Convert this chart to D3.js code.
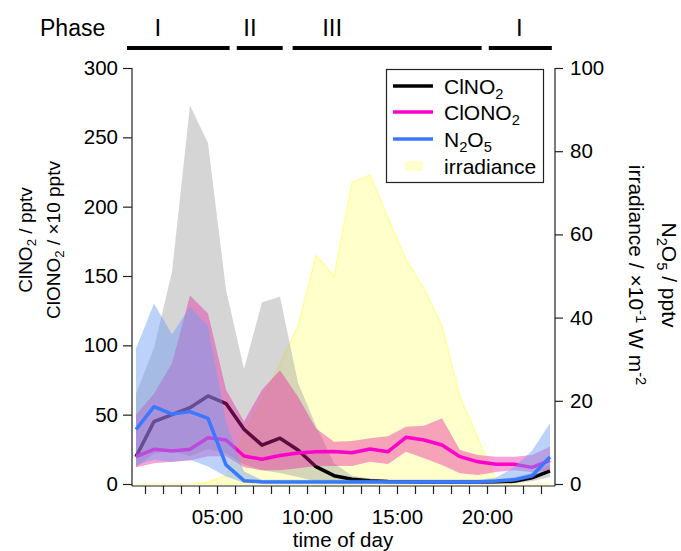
<!DOCTYPE html>
<html>
<head>
<meta charset="utf-8">
<script src="https://cdn.jsdelivr.net/npm/d3@7/dist/d3.min.js"></script>
<style>
  html, body { margin: 0; padding: 0; background: #fff; }
  svg { display: block; }
  text { font-family: "Liberation Sans", Arial, sans-serif; fill: #000; }
</style>
</head>
<body>
<svg id="chart" width="681" height="551"></svg>
<script>
// Hourly bin centres (hour of day)
const hours = [0.5, 1.5, 2.5, 3.5, 4.5, 5.5, 6.5, 7.5, 8.5, 9.5, 10.5, 11.5,
               12.5, 13.5, 14.5, 15.5, 16.5, 17.5, 18.5, 19.5, 20.5, 21.5, 22.5, 23.5];

// ClNO2 (pptv, left axis): median and range
const clno2   = [19.7, 45, 50, 55, 63.5, 58, 39.5, 28, 33, 24.5, 12.5, 6,
                 3.4, 2.4, 1.8, 1.6, 1.5, 1.5, 1.5, 1.5, 1.6, 2, 4.5, 9.5];
const clno2Lo = [12, 22, 24, 20, 25, 22, 14, 10, 8, 5, 2, 0.6,
                 0.3, 0.2, 0.2, 0.2, 0.2, 0.2, 0.2, 0.2, 0.3, 0.5, 2, 5];
const clno2Hi = [65, 98, 153, 273, 246, 140, 83, 131, 135, 73, 42, 15,
                 6, 4, 3, 3, 3, 3, 3, 3, 3, 5, 8, 14];

// ClONO2 (x10 pptv, left axis): median and range
const clono2   = [19.7, 25, 23.8, 25, 33.4, 31.7, 20.2, 17.8, 20.5, 22.4, 23.3, 23.5,
                  22.6, 25.2, 23.3, 33.7, 31.7, 28.1, 19.7, 16, 14.2, 14.2, 12, 17];
const clono2Lo = [12, 15, 16, 17, 20, 20, 12, 10, 10, 11.3, 13, 13,
                  13, 16, 14.5, 23.3, 18.5, 13.7, 7.7, 6.5, 8.7, 10, 8.7, 10];
const clono2Hi = [50, 65, 87, 136, 123, 68, 45, 68, 82, 63, 40, 30.5,
                  31, 33, 34.5, 41.3, 42, 47.4, 24.5, 21, 19.7, 19.7, 21, 27];

// N2O5 (pptv, right axis): median and range
const n2o5   = [13.1, 18.6, 16.8, 17.4, 15.8, 4.6, 0.8, 0.5, 0.5, 0.5, 0.5, 0.5,
                0.5, 0.5, 0.5, 0.5, 0.5, 0.5, 0.5, 0.5, 0.7, 1.0, 2.0, 6.5];
const n2o5Lo = [4.6, 5.8, 5.3, 5.8, 4.2, 1.8, 0.3, 0.2, 0.2, 0.2, 0.2, 0.2,
                0.2, 0.2, 0.2, 0.2, 0.2, 0.2, 0.2, 0.2, 0.3, 0.6, 1.5, 4];
const n2o5Hi = [32.6, 43.4, 36, 42.6, 38, 15, 3, 1, 1, 1, 1, 1,
                1, 1, 1, 1, 1, 1, 1, 1, 1.5, 4, 8, 14.6];

// Irradiance (x10^-1 W m-2, right axis): range
const irrLo = [0, 0, 0, 0, 0, 0, 0, 0, 0, 0, 0, 0,
               0, 0, 0, 0, 0, 0, 0, 0, 0, 0, 0, 0];
const irrHi = [0, 0, 0, 0, 0.5, 2, 12, 20, 29, 38, 55, 50,
               72.5, 74.3, 64, 54, 47, 38, 21, 11, 1, 0, 0, 0];

// Axis ticks
const leftTicks   = [0, 50, 100, 150, 200, 250, 300];
const rightTicks  = [0, 20, 40, 60, 80, 100];
const hourTicks   = [1, 2, 3, 4, 5, 6, 7, 8, 9, 10, 11, 12, 13, 14, 15, 16, 17, 18, 19, 20, 21, 22, 23];
const hourLabels  = {5: "05:00", 10: "10:00", 15: "15:00", 20: "20:00"};

// Sampling phases (start hour, end hour, label and where the label sits)
const phaseStart = [0, 6.1, 9.2, 20.1];
const phaseEnd   = [5.7, 8.65, 19.7, 23.6];
const phaseName  = ["I", "II", "III", "I"];
const phaseLabelAt = [1.72, 6.83, 11.4, 21.8];

const svg = d3.select("#chart");

const plotL = 132, plotR = 555, plotT = 68, plotB = 484;
const x  = d3.scaleLinear().domain([0, 24]).range([127, 559]);
const yL = d3.scaleLinear().domain([0, 300]).range([plotB, plotT]);
const yR = d3.scaleLinear().domain([0, 100]).range([plotB, plotT]);

function band(lo, hi, y) {
  return d3.area()
    .x((d, i) => x(hours[i]))
    .y0((d, i) => y(lo[i]))
    .y1((d, i) => y(hi[i]))(hours);
}
function line(v, y) {
  return d3.line().x((d, i) => x(hours[i])).y((d, i) => y(v[i]))(hours);
}

const g = svg.append("g");

// shaded ranges and median lines
g.append("path").attr("d", band(irrLo, irrHi, yR))
  .attr("fill", "#ffff80").attr("fill-opacity", 0.4)
  .attr("stroke", "#ffff60").attr("stroke-opacity", 0.5).attr("stroke-width", 1.5);
g.append("path").attr("d", band(clno2Lo, clno2Hi, yL))
  .attr("fill", "#9a9a9a").attr("fill-opacity", 0.42);
g.append("path").attr("d", line(clno2, yL))
  .attr("fill", "none").attr("stroke", "#000").attr("stroke-width", 3.5)
  .attr("stroke-linejoin", "round");
g.append("path").attr("d", band(clono2Lo, clono2Hi, yL))
  .attr("fill", "#e8189f").attr("fill-opacity", 0.4);
g.append("path").attr("d", line(clono2, yL))
  .attr("fill", "none").attr("stroke", "#ff00cc").attr("stroke-width", 3.5)
  .attr("stroke-linejoin", "round");
g.append("path").attr("d", band(n2o5Lo, n2o5Hi, yR))
  .attr("fill", "#6f9cf5").attr("fill-opacity", 0.46);
g.append("path").attr("d", line(n2o5, yR))
  .attr("fill", "none").attr("stroke", "#3a78ff").attr("stroke-width", 3.5)
  .attr("stroke-linejoin", "round");

const tickFont = 20.5;

// Left axis
const axL = svg.append("g").attr("transform", `translate(${plotL},0)`)
  .call(d3.axisLeft(yL).tickValues(leftTicks).tickSize(9).tickPadding(5));
axL.select(".domain").attr("d", `M0,${plotT}V${plotB + 2}`);
axL.selectAll("text").attr("font-size", tickFont).attr("font-family", "Liberation Sans, Arial, sans-serif");

// Right axis
const axR = svg.append("g").attr("transform", `translate(${plotR},0)`)
  .call(d3.axisRight(yR).tickValues(rightTicks).tickSize(8).tickPadding(7));
axR.select(".domain").attr("d", `M0,${plotT}V${plotB + 2}`);
axR.selectAll("text").attr("font-size", tickFont).attr("font-family", "Liberation Sans, Arial, sans-serif");

// Bottom axis
const axB = svg.append("g").attr("transform", `translate(0,${plotB + 2})`)
  .call(d3.axisBottom(x).tickValues(hourTicks).tickSize(8).tickPadding(15)
    .tickFormat(d => hourLabels[d] || ""));
axB.select(".domain").attr("d", `M${plotL},0H${plotR}`);
axB.selectAll("text").attr("font-size", tickFont).attr("font-family", "Liberation Sans, Arial, sans-serif");
svg.selectAll(".domain, .tick line").attr("stroke", "#222").attr("stroke-width", 1.2);

// Axis titles
svg.append("text").attr("text-anchor", "middle").attr("font-size", 20.5)
  .attr("x", 343).attr("y", 547).text("time of day");

function chemLabel(sel, parts) {
  // parts: [text, 0 = normal | 1 = subscript | 2 = superscript]
  parts.forEach(([t, sub]) => {
    const ts = sel.append("tspan").text(t);
    if (sub === 1) ts.attr("baseline-shift", "-30%").attr("font-size", "0.7em");
    if (sub === 2) ts.attr("baseline-shift", "45%").attr("font-size", "0.7em");
  });
}

const lt1 = svg.append("text").attr("text-anchor", "middle").attr("font-size", 19)
  .attr("transform", "translate(32,240) rotate(-90)");
chemLabel(lt1, [["ClNO", 0], ["2", 1], [" / pptv", 0]]);
const lt2 = svg.append("text").attr("text-anchor", "middle").attr("font-size", 19)
  .attr("transform", "translate(60,240) rotate(-90)");
chemLabel(lt2, [["ClONO", 0], ["2", 1], [" / \u00d710 pptv", 0]]);

const rt1 = svg.append("text").attr("text-anchor", "middle").attr("font-size", 21)
  .attr("transform", "translate(629,275) rotate(90)");
chemLabel(rt1, [["irradiance / \u00d710", 0], ["-1", 2], [" W m", 0], ["-2", 2]]);
const rt2 = svg.append("text").attr("text-anchor", "middle").attr("font-size", 21)
  .attr("transform", "translate(662,275) rotate(90)");
chemLabel(rt2, [["N", 0], ["2", 1], ["O", 0], ["5", 1], [" / pptv", 0]]);

// Legend
const lg = svg.append("g");
lg.append("rect").attr("x", 386.5).attr("y", 69.5).attr("width", 157).attr("height", 113)
  .attr("fill", "#fff").attr("stroke", "#222").attr("stroke-width", 1.2);
const legendItems = [
  {parts: [["ClNO", 0], ["2", 1]], color: "#000", y: 86},
  {parts: [["ClONO", 0], ["2", 1]], color: "#ff00cc", y: 112},
  {parts: [["N", 0], ["2", 1], ["O", 0], ["5", 1]], color: "#3a78ff", y: 139},
  {parts: [["irradiance", 0]], color: null, y: 166}
];
legendItems.forEach(it => {
  if (it.color) {
    lg.append("line").attr("x1", 393).attr("x2", 433).attr("y1", it.y).attr("y2", it.y)
      .attr("stroke", it.color).attr("stroke-width", 3.5);
  } else {
    lg.append("rect").attr("x", 405).attr("y", it.y - 5).attr("width", 18).attr("height", 10)
      .attr("fill", "#ffff80").attr("fill-opacity", 0.4);
  }
  const t = lg.append("text").attr("x", 444).attr("y", it.y + 7.5).attr("font-size", 21);
  chemLabel(t, it.parts);
});

// Phase bars
svg.append("text").attr("x", 40).attr("y", 36).attr("font-size", 23)
  .attr("font-family", "Open Sans, Noto Sans, sans-serif").text("Phase");
phaseName.forEach((p, i) => {
  svg.append("rect").attr("x", x(phaseStart[i])).attr("y", 46)
    .attr("width", x(phaseEnd[i]) - x(phaseStart[i])).attr("height", 4).attr("fill", "#000");
  svg.append("text").attr("x", x(phaseLabelAt[i])).attr("y", 36)
    .attr("text-anchor", "middle").attr("font-size", 24)
    .attr("font-family", "Liberation Serif, Times New Roman, serif").text(p);
});
</script>
</body>
</html>
